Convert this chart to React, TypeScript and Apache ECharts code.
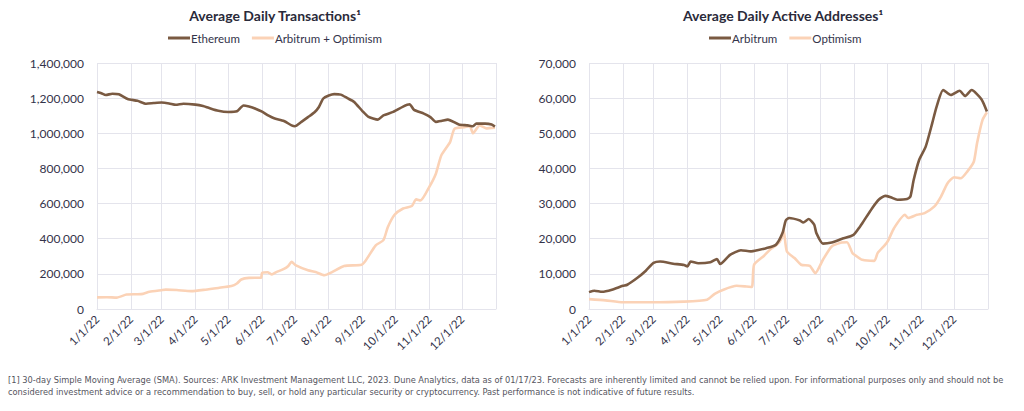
import React, { useEffect, useRef } from "react";
import * as echarts from "echarts";

// ---- Left chart: Average Daily Transactions ----
const ethDates = ["2022-01-01","2022-01-05","2022-01-09","2022-01-15","2022-01-21","2022-01-29","2022-02-07","2022-02-15","2022-02-22","2022-03-01","2022-03-08","2022-03-14","2022-03-21","2022-04-01","2022-04-08","2022-04-13","2022-04-22","2022-05-01","2022-05-09","2022-05-15","2022-05-20","2022-05-26","2022-06-01","2022-06-07","2022-06-12","2022-06-21","2022-06-28","2022-07-01","2022-07-07","2022-07-13","2022-07-19","2022-07-23","2022-07-27","2022-08-01","2022-08-06","2022-08-12","2022-08-18","2022-08-24","2022-09-01","2022-09-06","2022-09-15","2022-09-20","2022-09-29","2022-10-08","2022-10-14","2022-10-18","2022-10-27","2022-11-02","2022-11-07","2022-11-12","2022-11-18","2022-11-28","2022-12-06","2022-12-11","2022-12-14","2022-12-22","2022-12-28","2022-12-31"];
const ethValues = [1235000,1228000,1218000,1225000,1222000,1195000,1185000,1168000,1172000,1175000,1170000,1162000,1168000,1163000,1155000,1145000,1128000,1121000,1125000,1158000,1152000,1140000,1123000,1100000,1085000,1070000,1045000,1040000,1065000,1092000,1120000,1150000,1198000,1215000,1223000,1220000,1200000,1180000,1125000,1095000,1078000,1102000,1122000,1152000,1165000,1133000,1112000,1092000,1065000,1070000,1078000,1050000,1045000,1040000,1055000,1055000,1050000,1038000];

const l2Dates = ["2022-01-01","2022-01-10","2022-01-19","2022-01-28","2022-02-06","2022-02-12","2022-02-18","2022-03-01","2022-03-05","2022-03-15","2022-03-28","2022-04-10","2022-04-22","2022-05-04","2022-05-09","2022-05-13","2022-05-20","2022-05-31","2022-06-01","2022-06-06","2022-06-10","2022-06-14","2022-06-21","2022-06-25","2022-06-28","2022-07-02","2022-07-13","2022-07-20","2022-07-28","2022-08-04","2022-08-15","2022-08-31","2022-09-04","2022-09-13","2022-09-20","2022-09-24","2022-09-30","2022-10-08","2022-10-16","2022-10-20","2022-10-24","2022-11-01","2022-11-07","2022-11-12","2022-11-20","2022-11-24","2022-12-03","2022-12-08","2022-12-11","2022-12-17","2022-12-23","2022-12-31"];
const l2Values = [66000,67000,65000,82000,84000,86000,98000,107000,110000,108000,102000,110000,120000,131000,145000,168000,177000,178000,205000,209000,197000,210000,228000,245000,268000,248000,220000,210000,192000,210000,245000,252000,278000,362000,392000,465000,535000,572000,586000,624000,618000,695000,770000,875000,950000,1025000,1035000,1040000,1000000,1045000,1028000,1032000];

// ---- Right chart: Average Daily Active Addresses ----
const arbDates = ["2022-01-01","2022-01-06","2022-01-13","2022-01-22","2022-02-01","2022-02-05","2022-02-14","2022-02-22","2022-03-01","2022-03-07","2022-03-19","2022-03-29","2022-04-01","2022-04-04","2022-04-11","2022-04-22","2022-04-28","2022-05-01","2022-05-10","2022-05-20","2022-05-29","2022-06-05","2022-06-12","2022-06-21","2022-06-27","2022-06-30","2022-07-03","2022-07-13","2022-07-16","2022-07-21","2022-07-26","2022-07-28","2022-08-03","2022-08-11","2022-08-20","2022-08-31","2022-09-06","2022-09-08","2022-09-17","2022-09-23","2022-09-29","2022-10-04","2022-10-10","2022-10-19","2022-10-22","2022-10-25","2022-10-30","2022-11-05","2022-11-11","2022-11-15","2022-11-21","2022-11-28","2022-12-06","2022-12-11","2022-12-17","2022-12-26","2022-12-31"];
const arbValues = [4800,5200,4900,5500,6600,6900,8800,10900,13100,13500,12900,12500,12100,13500,13000,13300,14200,12800,15400,16700,16400,16800,17300,18300,21600,25200,25900,25200,24600,25600,24000,21600,18600,18900,19900,21100,23500,24400,28700,31100,32200,31800,31100,31300,32000,36700,42400,46200,52900,57600,62300,60900,62100,60600,62300,59700,56200];

const opDates = ["2022-01-01","2022-01-16","2022-02-01","2022-02-26","2022-03-29","2022-04-19","2022-04-26","2022-05-04","2022-05-16","2022-05-25","2022-05-30","2022-06-01","2022-06-10","2022-06-16","2022-06-22","2022-06-26","2022-06-28","2022-07-01","2022-07-08","2022-07-14","2022-07-22","2022-07-27","2022-08-03","2022-08-11","2022-08-20","2022-08-25","2022-08-30","2022-09-02","2022-09-08","2022-09-19","2022-09-22","2022-09-29","2022-10-02","2022-10-07","2022-10-17","2022-10-20","2022-10-28","2022-11-04","2022-11-13","2022-11-19","2022-11-25","2022-12-01","2022-12-07","2022-12-13","2022-12-19","2022-12-22","2022-12-27","2022-12-31"];
const opValues = [2800,2450,1900,1900,2100,2650,4300,5500,6600,6400,6250,12600,15100,17000,18300,20000,22500,16400,14500,12600,12300,10200,14000,17800,18900,19000,15900,15200,14000,13700,15900,18300,19700,23000,26800,25900,26800,27300,29200,32000,35800,37500,37200,39100,41900,47200,53800,56000];

const leftTitle = "Average Daily Transactions¹";
const rightTitle = "Average Daily Active Addresses¹";
const footnote1 = "[1] 30-day Simple Moving Average (SMA). Sources: ARK Investment Management LLC, 2023. Dune Analytics, data as of 01/17/23. Forecasts are inherently limited and cannot be relied upon. For informational purposes only and should not be";
const footnote2 = "considered investment advice or a recommendation to buy, sell, or hold any particular security or cryptocurrency. Past performance is not indicative of future results.";

const DARK = "#7a5a42";
const LIGHT = "#fbd2b6";
const TEXT = "#33334a";
const GRID = "#e4e4ec";
const FONT = "Lato, 'Noto Sans', sans-serif";

const zip = (d: string[], v: number[]) => d.map((x, i) => [x, v[i]]);

const xLabel = (val: number) => {
  const d = new Date(val);
  if (d.getFullYear() !== 2022) return "";
  return `${d.getMonth() + 1}/${d.getDate()}/22`;
};

function makeX(gridIndex: number) {
  return {
    type: "time",
    gridIndex,
    min: "2022-01-01",
    max: "2023-01-01",
    splitNumber: 12,
    minInterval: 28 * 86400000,
    maxInterval: 31 * 86400000,
    axisLine: { show: true, lineStyle: { color: GRID, width: 1 } },
    axisTick: { show: false },
    splitLine: { show: true, lineStyle: { color: GRID, width: 1 } },
    axisLabel: {
      rotate: 45,
      margin: 8,
      color: TEXT,
      fontSize: 11.5,
      fontFamily: FONT,
      hideOverlap: false,
      showMinLabel: true,
      showMaxLabel: true,
      formatter: xLabel,
    },
  };
}

function makeY(gridIndex: number, max: number, interval: number) {
  return {
    type: "value",
    gridIndex,
    min: 0,
    max,
    interval,
    axisLine: { show: false },
    axisTick: { show: false },
    splitLine: { show: true, lineStyle: { color: GRID, width: 1 } },
    axisLabel: { color: TEXT, fontSize: 12, fontFamily: FONT, margin: 13 },
  };
}

function lineSeries(name: string, data: any[], color: string, idx: number, z: number) {
  return {
    type: "line",
    name,
    data,
    xAxisIndex: idx,
    yAxisIndex: idx,
    showSymbol: false,
    symbol: "none",
    smooth: 0.2,
    z,
    lineStyle: { color, width: 2.6 },
    itemStyle: { color },
  };
}

export default function App() {
  const ref = useRef<HTMLDivElement>(null);
  useEffect(() => {
    if (!ref.current) return;
    const chart = echarts.init(ref.current, null, { renderer: "svg" });
    chart.setOption({
      animation: false,
      backgroundColor: "#ffffff",
      title: [
        {
          text: leftTitle,
          left: 270,
          top: 3,
          textAlign: "center",
          textStyle: { fontSize: 14, fontWeight: "bold", color: "#2a2a3a", fontFamily: FONT },
        },
        {
          text: rightTitle,
          left: 778,
          top: 3,
          textAlign: "center",
          textStyle: { fontSize: 14, fontWeight: "bold", color: "#2a2a3a", fontFamily: FONT },
        },
      ],
      legend: [
        {
          data: ["Ethereum", "Arbitrum + Optimism"],
          left: 163,
          top: 27,
          itemWidth: 22,
          itemHeight: 3,
          itemGap: 12,
          icon: "rect",
          textStyle: { color: TEXT, fontSize: 11.5, fontFamily: FONT, padding: [0, 0, 0, -4] },
        },
        {
          data: ["Arbitrum", "Optimism"],
          left: 704,
          top: 27,
          itemWidth: 22,
          itemHeight: 3,
          itemGap: 12,
          icon: "rect",
          textStyle: { color: TEXT, fontSize: 11.5, fontFamily: FONT, padding: [0, 0, 0, -4] },
        },
      ],
      grid: [
        { left: 97, right: 528, top: 63, bottom: 102 },
        { left: 589, right: 36, top: 63, bottom: 102 },
      ],
      xAxis: [makeX(0), makeX(1)],
      yAxis: [makeY(0, 1400000, 200000), makeY(1, 70000, 10000)],
      series: [
        lineSeries("Arbitrum + Optimism", zip(l2Dates, l2Values), LIGHT, 0, 2),
        lineSeries("Ethereum", zip(ethDates, ethValues), DARK, 0, 3),
        lineSeries("Optimism", zip(opDates, opValues), LIGHT, 1, 2),
        lineSeries("Arbitrum", zip(arbDates, arbValues), DARK, 1, 3),
      ],
      graphic: [
        {
          type: "text",
          left: 8,
          top: 375,
          style: { text: footnote1, fill: "#555560", font: "9.2px 'Liberation Sans Narrow', 'DejaVu Sans Condensed', sans-serif" },
        },
        {
          type: "text",
          left: 8,
          top: 387,
          style: { text: footnote2, fill: "#555560", font: "9.2px 'Liberation Sans Narrow', 'DejaVu Sans Condensed', sans-serif" },
        },
      ],
    });
    return () => chart.dispose();
  }, []);
  return (
    <div
      ref={ref}
      style={{ position: "fixed", left: 0, top: 0, width: 1024, height: 411, background: "#fff" }}
    />
  );
}
